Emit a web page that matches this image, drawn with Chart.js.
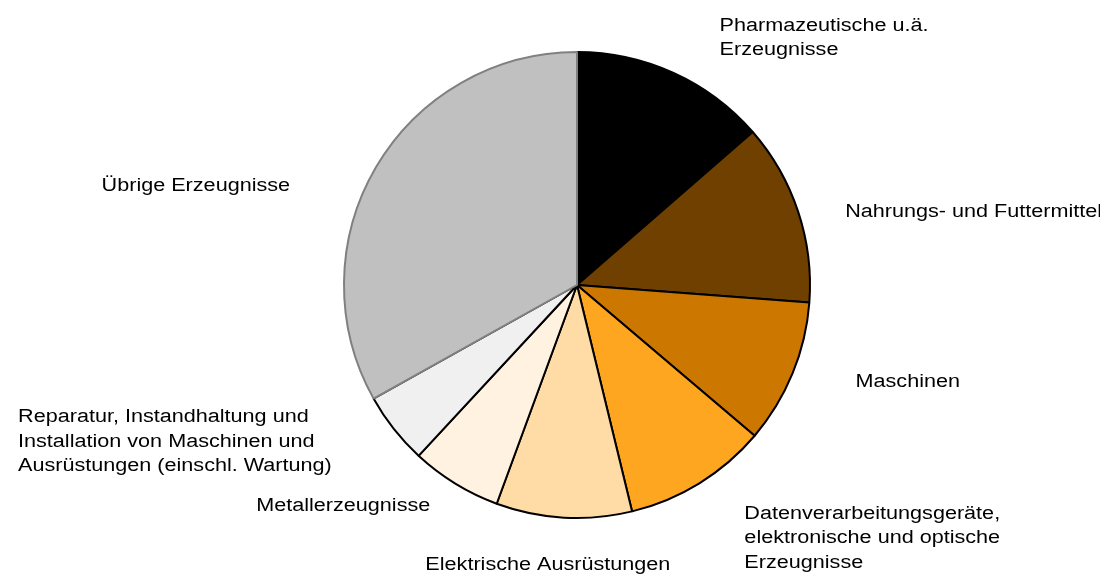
<!DOCTYPE html>
<html>
<head>
<meta charset="utf-8">
<script src="https://cdn.jsdelivr.net/npm/chart.js@4"></script>
<style>
  html, body { margin: 0; padding: 0; background: #fff; }
  #wrap { width: 1100px; height: 577px; }
</style>
</head>
<body>
<div id="wrap"><canvas id="pie-chart" width="1100" height="577"></canvas></div>
<script>
// Daten (Anteile in %)
const labels = [
    ['Pharmazeutische u.ä.', 'Erzeugnisse'],
    ['Nahrungs- und Futtermittel'],
    ['Maschinen'],
    ['Datenverarbeitungsgeräte,', 'elektronische und optische', 'Erzeugnisse'],
    ['Elektrische Ausrüstungen'],
    ['Metallerzeugnisse'],
    ['Reparatur, Instandhaltung und', 'Installation von Maschinen und', 'Ausrüstungen (einschl. Wartung)'],
    ['Übrige Erzeugnisse']
];
const values = [13.6, 12.6, 10.0, 10.0, 9.4, 6.3, 5.0, 33.1];
const colors = ['#000000', '#6F4000', '#CC7700', '#FFA620', '#FFDBA6', '#FFF2E0', '#F0F0F0', '#C0C0C0'];
const borders = ['#000000', '#000000', '#000000', '#000000', '#000000', '#000000', '#000000', '#808080'];

// Position der Beschriftungen relativ zum äusseren Mittelpunkt des Segments
const labelLayout = [
    { align: 'left', dx: 46, dy: -35 },
    { align: 'left', dx: 47, dy: 0 },
    { align: 'left', dx: 63, dy: 9 },
    { align: 'left', dx: 45, dy: 55 },
    { align: 'center', dx: -16, dy: 47 },
    { align: 'right', dx: -25, dy: 22 },
    { align: 'right', dx: -62, dy: 13 },
    { align: 'right', dx: -86, dy: 19 }
];

const FONT = '18px "Liberation Sans", Arial, sans-serif';
const LINE_H = 24.5;
const STRETCH = 1.2; // Schrift ist im Original horizontal gestreckt

const outsideLabels = {
    id: 'outsideLabels',
    afterDraw(chart) {
        const ctx = chart.ctx;
        const meta = chart.getDatasetMeta(0);
        ctx.save();
        ctx.font = FONT;
        ctx.fillStyle = '#000';
        ctx.textBaseline = 'middle';
        ctx.textAlign = 'left';
        meta.data.forEach((arc, i) => {
            const mid = (arc.startAngle + arc.endAngle) / 2;
            const px = arc.x + Math.cos(mid) * arc.outerRadius;
            const py = arc.y + Math.sin(mid) * arc.outerRadius;
            const lines = labels[i];
            const lay = labelLayout[i];
            const w = Math.max(...lines.map(l => ctx.measureText(l).width)) * STRETCH;
            let left;
            if (lay.align === 'left') left = px + lay.dx;
            else if (lay.align === 'right') left = px + lay.dx - w;
            else left = px + lay.dx - w / 2;
            const top = py + lay.dy - (lines.length - 1) * LINE_H / 2;
            lines.forEach((l, j) => {
                ctx.save();
                ctx.translate(left, top + j * LINE_H);
                ctx.scale(STRETCH, 1);
                ctx.fillText(l, 0, 0);
                ctx.restore();
            });
        });
        ctx.restore();
    }
};

const ctx = document.getElementById('pie-chart').getContext('2d');
new Chart(ctx, {
    type: 'pie',
    data: {
        labels: labels.map(l => l.join(' ')),
        datasets: [{
            data: values,
            backgroundColor: colors,
            borderColor: borders,
            borderWidth: 2,
            radius: 233
        }]
    },
    options: {
        responsive: false,
        animation: false,
        layout: { padding: { left: 277, right: 223, top: 0, bottom: 7 } },
        plugins: {
            legend: { display: false },
            tooltip: { enabled: false }
        }
    },
    plugins: [outsideLabels]
});
</script>
</body>
</html>
